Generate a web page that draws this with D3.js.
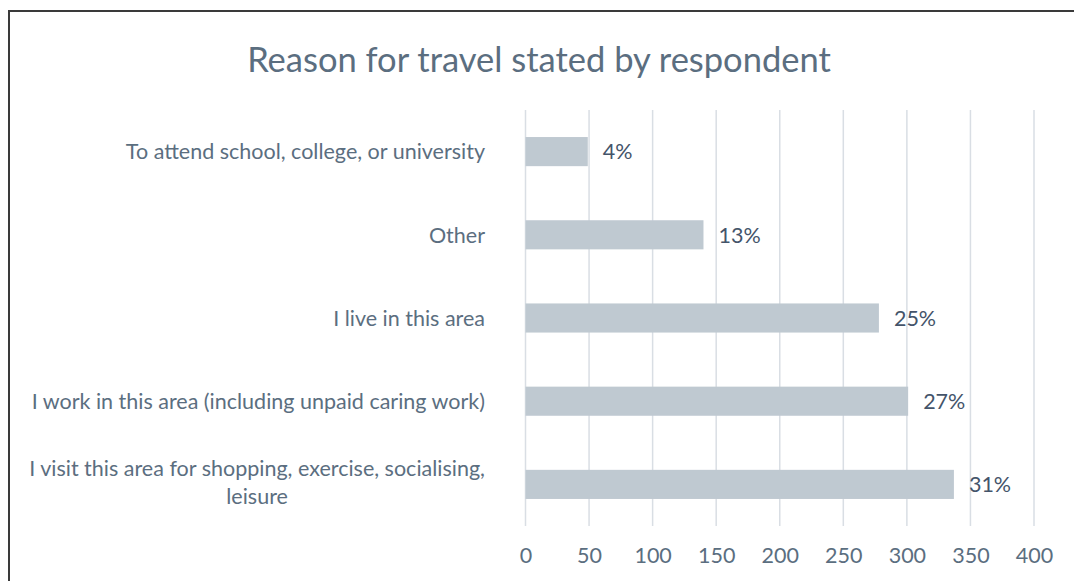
<!DOCTYPE html>
<html>
<head>
<meta charset="utf-8">
<script src="https://cdn.jsdelivr.net/npm/d3@7"></script>
<style>
  html, body { margin: 0; padding: 0; background: #ffffff; }
  svg { display: block; }
</style>
</head>
<body>
<svg id="chart" width="1074" height="581"></svg>
<script>
// Survey responses: reason for travel
const categories = [
  "To attend school, college, or university",
  "Other",
  "I live in this area",
  "I work in this area (including unpaid caring work)",
  "I visit this area for shopping, exercise, socialising, leisure"
];
// Category labels as drawn (line breaks where the axis wraps them)
const labelLines = [
  ["To attend school, college, or university"],
  ["Other"],
  ["I live in this area"],
  ["I work in this area (including unpaid caring work)"],
  ["I visit this area for shopping, exercise, socialising,", "leisure"]
];
const counts = [49, 140, 278, 301, 337];
const percentLabels = ["4%", "13%", "25%", "27%", "31%"];
const xTicks = [0, 50, 100, 150, 200, 250, 300, 350, 400];
const chartTitle = "Reason for travel stated by respondent";

const svg = d3.select("#chart");
const font = "Lato, 'Open Sans', sans-serif";
const textColor = "#5B6E80";
const valueColor = "#44546A";
const labelSize = 21.5;

// Frame around the chart area
svg.append("rect")
  .attr("x", 9).attr("y", 11)
  .attr("width", 1100).attr("height", 620)
  .attr("fill", "none")
  .attr("stroke", "#3a3a3a")
  .attr("stroke-width", 2);

const plot = { left: 525.5, right: 1034, top: 110, bottom: 526 };

const x = d3.scaleLinear().domain([0, 400]).range([plot.left, plot.right]);
const y = d3.scaleBand().domain(categories)
  .range([plot.top, plot.bottom])
  .paddingInner(0.65).paddingOuter(0.325);

// Title
svg.append("text")
  .attr("x", 539).attr("y", 72)
  .attr("text-anchor", "middle")
  .attr("font-family", font)
  .attr("font-size", 34.5)
  .attr("fill", textColor)
  .text(chartTitle);

// Vertical gridlines
svg.append("g")
  .selectAll("line")
  .data(xTicks)
  .join("line")
  .attr("x1", d => x(d)).attr("x2", d => x(d))
  .attr("y1", plot.top).attr("y2", plot.bottom)
  .attr("stroke", "#D9DEE4")
  .attr("stroke-width", 1.5);

// X axis tick labels
const xAxis = d3.axisBottom(x).tickValues(xTicks).tickSize(0).tickPadding(0);
const gx = svg.append("g")
  .attr("transform", `translate(0,555)`)
  .call(xAxis);
gx.select(".domain").remove();
gx.selectAll("text")
  .attr("font-family", font)
  .attr("font-size", labelSize)
  .attr("fill", textColor)
  .attr("y", 0)
  .attr("dy", "0.36em");

// Bars
svg.append("g")
  .selectAll("rect")
  .data(categories)
  .join("rect")
  .attr("x", x(0))
  .attr("y", d => y(d))
  .attr("width", (d, i) => x(counts[i]) - x(0))
  .attr("height", y.bandwidth())
  .attr("fill", "#BFC9D1");

// Value labels
svg.append("g")
  .selectAll("text")
  .data(categories)
  .join("text")
  .attr("x", (d, i) => x(counts[i]) + 15)
  .attr("y", d => y(d) + y.bandwidth() / 2)
  .attr("dy", "0.36em")
  .attr("font-family", font)
  .attr("font-size", labelSize)
  .attr("fill", valueColor)
  .text((d, i) => percentLabels[i]);

// Category labels: each block centred, right edge just left of the plot
const lineGap = 28;
const labelRight = 485;
const labels = svg.append("g")
  .selectAll("text")
  .data(categories)
  .join("text")
  .attr("text-anchor", "middle")
  .attr("font-family", font)
  .attr("font-size", labelSize)
  .attr("fill", textColor);

labels.each(function(d, i) {
  const lines = labelLines[i];
  const cy = y(d) + y.bandwidth() / 2 - (lines.length > 1 ? 2 : 0);
  const t = d3.select(this);
  const spans = t.selectAll("tspan")
    .data(lines)
    .join("tspan")
    .attr("x", 0)
    .attr("y", (l, j) => cy + (j - (lines.length - 1) / 2) * lineGap)
    .attr("dy", "0.36em")
    .text(l => l);
  let w = 0;
  spans.each(function() { w = Math.max(w, this.getComputedTextLength()); });
  spans.attr("x", labelRight - w / 2);
});
</script>
</body>
</html>
